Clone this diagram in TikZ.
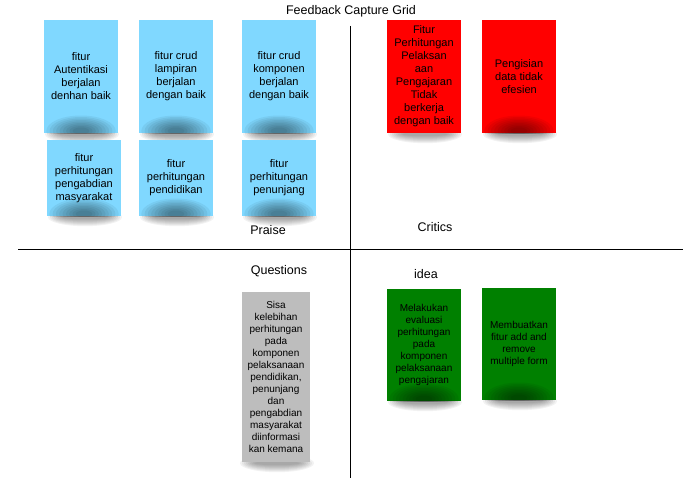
\documentclass[tikz,border=0pt]{standalone}
\usepackage{fontspec}
\setmainfont{Liberation Sans}
\usetikzlibrary{positioning,calc,backgrounds}
\definecolor{praiseblue}{RGB}{128,216,255}
\definecolor{criticred}{RGB}{255,0,0}
\definecolor{ideagreen}{RGB}{0,128,0}
\definecolor{questiongray}{RGB}{189,189,189}

\begin{document}
\begin{tikzpicture}
[x=1pt,y=-1pt,
sticky/.style={
fill=#1,
minimum width=74pt,
minimum height=113pt,
inner sep=1pt,
align=center,
font=\fontsize{11}{13}\selectfont},
small/.style={font=\fontsize{10}{12}\selectfont},
curl/.style={path picture={
\foreach \k in {1,...,9}
\fill[black,opacity=0.055]
([yshift=2pt]path picture bounding box.south) ellipse ({38pt-3.3pt*\k} and {17pt-1.5pt*\k});}},
quadlabel/.style={font=\fontsize{12.5}{14}\selectfont}]
\useasboundingbox (0,0) rectangle (700,500);

% grid
\coordinate (vtop) at (350,26);
\coordinate (vbot) at (350,478);
\coordinate (hleft) at (18,249);
\coordinate (hright) at (683,249);
\draw[line width=0.8pt] (vtop) -- (vbot);
\draw[line width=0.8pt] (hleft) -- (hright);

\node (title) at (351,11) [quadlabel] {Feedback Capture Grid};
\node (praise) at (268,230) [quadlabel] {Praise};
\node (critics) at (435,227) [quadlabel] {Critics};
\node (questions) at (279,271) [quadlabel] {Questions};
\node (idea) at (426,274) [quadlabel] {idea};

% praise
\node (p1) at (81,76.5) [sticky=praiseblue,curl] {fitur\\Autentikasi\\berjalan\\denhan baik};
\node (p2) at (176,76.5) [sticky=praiseblue,curl] {fitur crud\\lampiran\\berjalan\\dengan baik};
\node (p3) at (279,76.5) [sticky=praiseblue,curl] {fitur crud\\komponen\\berjalan\\dengan baik};
\node (p4) at (84,178) [sticky=praiseblue,curl,minimum height=76pt] {fitur\\perhitungan\\pengabdian\\masyarakat};
\node (p5) at (176,178) [sticky=praiseblue,curl,minimum height=76pt] {fitur\\perhitungan\\pendidikan};
\node (p6) at (279,178) [sticky=praiseblue,curl,minimum height=76pt] {fitur\\perhitungan\\penunjang};

% critics
\node (c1) at (424,76.5) [sticky=criticred] {Fitur\\Perhitungan\\Pelaksan\\aan\\Pengajaran\\Tidak\\berkerja\\dengan baik};
\node (c2) at (519,76.5) [sticky=criticred,curl] {Pengisian\\data tidak\\efesien};

% questions
\node (q1) at (276,377) [sticky=questiongray,small,minimum width=68pt,minimum height=170pt] {Sisa\\kelebihan\\perhitungan\\pada\\komponen\\pelaksanaan\\pendidikan,\\penunjang\\dan\\pengabdian\\masyarakat\\diinformasi\\kan kemana};

% idea
\node (i1) at (424,345) [sticky=ideagreen,curl,small,minimum height=112pt] {Melakukan\\evaluasi\\perhitungan\\pada\\komponen\\pelaksanaan\\pengajaran};
\node (i2) at (519,344) [sticky=ideagreen,curl,small,minimum height=112pt] {Membuatkan\\fitur add and\\remove\\multiple form};

% soft shadows under the notes
\begin{scope}[on background layer]
\foreach \n in {p1,p2,p3,p4,p5,p6,c1,c2,q1,i1,i2}
\foreach \k in {0,...,7}
\fill[black,opacity=0.05] ($(\n.south)+(1,1)$) ellipse ({37pt-2pt*\k} and {9pt-1pt*\k});
\end{scope}

\end{tikzpicture}
\end{document}
